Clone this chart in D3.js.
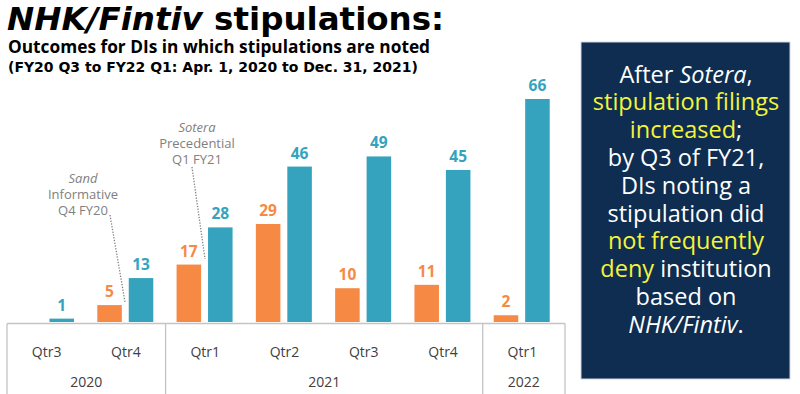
<!DOCTYPE html>
<html><head><meta charset="utf-8">
<script src="https://cdn.jsdelivr.net/npm/d3@7"></script>
<style>body{margin:0;background:#fff}svg{display:block}</style>
</head><body>
<svg id="c" width="800" height="394"></svg>
<script>
const quarters = ["Qtr3","Qtr4","Qtr1","Qtr2","Qtr3","Qtr4","Qtr1"];
const years = ["2020","2020","2021","2021","2021","2021","2022"];
const denied = [null,5,17,29,10,11,2];      // orange
const instituted = [1,13,28,46,49,45,66];   // blue
const yearGroups = [{year:"2020",n:2},{year:"2021",n:4},{year:"2022",n:1}];
const annotations = [
  {lines:["Sand","Informative","Q4 FY20"], italic:[true,false,false], cat:1},
  {lines:["Sotera","Precedential","Q1 FY21"], italic:[true,false,false], cat:2}
];
const boxLines = [
  [{t:"After ",c:"w"},{t:"Sotera",c:"w",i:1},{t:",",c:"w"}],
  [{t:"stipulation filings",c:"y"}],
  [{t:"increased",c:"y"},{t:";",c:"w"}],
  [{t:"by Q3 of FY21,",c:"w"}],
  [{t:"DIs noting a",c:"w"}],
  [{t:"stipulation did",c:"w"}],
  [{t:"not frequently",c:"y"}],
  [{t:"deny",c:"y"},{t:" institution",c:"w"}],
  [{t:"based on",c:"w"}],
  [{t:"NHK/Fintiv",c:"w",i:1},{t:".",c:"w"}]
];

const ORANGE="#f68a45", BLUE="#35a3bd", FONT="'Open Sans', 'Noto Sans', sans-serif";
const HFONT="'DejaVu Sans', sans-serif";
const svg = d3.select("#c");
const keys = d3.range(quarters.length);
const x = d3.scaleBand().domain(keys).range([7,562]).padding(0);
const inner = d3.scaleBand().domain(["d","i"]).range([11,67]).paddingInner(0.22);
const y = d3.scaleLinear().domain([0,66]).range([322,99]);

// Title
const t = svg.append("text").attr("x",7).attr("y",30).attr("font-family",HFONT)
  .attr("font-weight",700).attr("font-size",32.5).attr("fill","#000");
t.append("tspan").attr("font-style","italic").text("NHK/Fintiv");
t.append("tspan").text(" stipulations:");
svg.append("text").attr("x",8).attr("y",53).attr("font-family",FONT).attr("font-weight",700)
  .attr("font-size",17.3).text("Outcomes for DIs in which stipulations are noted");
svg.append("text").attr("x",8).attr("y",71.5).attr("font-family",HFONT).attr("font-weight",700)
  .attr("font-size",14).text("(FY20 Q3 to FY22 Q1: Apr. 1, 2020 to Dec. 31, 2021)");

// Bars
const g = svg.append("g");
keys.forEach(k=>{
  const x0 = x(k);
  if(denied[k]!=null){
    g.append("rect").attr("x",x0+inner("d")).attr("width",inner.bandwidth())
      .attr("y",y(denied[k])).attr("height",y(0)-y(denied[k])).attr("fill",ORANGE);
    g.append("text").attr("x",x0+inner("d")+inner.bandwidth()/2).attr("y",y(denied[k])-8)
      .attr("text-anchor","middle").attr("font-family",FONT).attr("font-weight",700)
      .attr("font-size",15.5).attr("fill",ORANGE).text(denied[k]);
  }
  g.append("rect").attr("x",x0+inner("i")).attr("width",inner.bandwidth())
    .attr("y",y(instituted[k])).attr("height",y(0)-y(instituted[k])).attr("fill",BLUE);
  g.append("text").attr("x",x0+inner("i")+inner.bandwidth()/2).attr("y",y(instituted[k])-8)
    .attr("text-anchor","middle").attr("font-family",FONT).attr("font-weight",700)
    .attr("font-size",15.5).attr("fill",BLUE).text(instituted[k]);
});

// Axis box
const ax = svg.append("g").attr("stroke","#c4c4c4").attr("stroke-width",1.3).attr("fill","none");
ax.append("line").attr("x1",7).attr("x2",565).attr("y1",323.5).attr("y2",323.5);
let idx=0;
const bounds=[7];
yearGroups.forEach(gp=>{ idx+=gp.n; bounds.push(idx<keys.length? x(idx): 565); });
bounds.forEach(b=>ax.append("line").attr("x1",b).attr("x2",b).attr("y1",323.5).attr("y2",394));
keys.forEach(k=>{
  svg.append("text").attr("x",x(k)+x.bandwidth()/2).attr("y",357).attr("text-anchor","middle")
    .attr("font-family",FONT).attr("font-size",14).attr("fill","#404040").text(quarters[k]);
});
yearGroups.forEach((gp,i)=>{
  const cx=(bounds[i]+bounds[i+1])/2;
  svg.append("text").attr("x",cx).attr("y",387).attr("text-anchor","middle")
    .attr("font-family",FONT).attr("font-size",14).attr("fill","#404040").text(gp.year);
});

// Annotations
const annPos = [{cx:83,y0:183,lx1:110,ly1:215,lx2:125,ly2:302},{cx:197,y0:132,lx1:192,ly1:167,lx2:205,ly2:259}];
annotations.forEach((a,i)=>{
  const p=annPos[i];
  a.lines.forEach((ln,j)=>{
    svg.append("text").attr("x",p.cx).attr("y",p.y0+j*15.8).attr("text-anchor","middle")
      .attr("font-family",FONT).attr("font-size",13).attr("fill","#808080")
      .attr("font-style",a.italic[j]?"italic":"normal").text(ln);
  });
  svg.append("line").attr("x1",p.lx1).attr("y1",p.ly1).attr("x2",p.lx2).attr("y2",p.ly2)
    .attr("stroke","#808080").attr("stroke-width",1.3).attr("stroke-dasharray","1.3,1.5");
});

// Right box
svg.append("rect").attr("x",581).attr("y",42).attr("width",209).attr("height",337)
  .attr("fill","#0e2d50").attr("stroke","#cfd6de").attr("stroke-width",1);
boxLines.forEach((ln,j)=>{
  const tx = svg.append("text").attr("x",686).attr("y",82.5+j*27.8).attr("text-anchor","middle")
    .attr("font-family",FONT).attr("font-size",23.5);
  ln.forEach(s=>tx.append("tspan").attr("fill",s.c==="y"?"#f4f43c":"#ffffff")
    .attr("font-style",s.i?"italic":"normal").text(s.t));
});
</script>
</body></html>
